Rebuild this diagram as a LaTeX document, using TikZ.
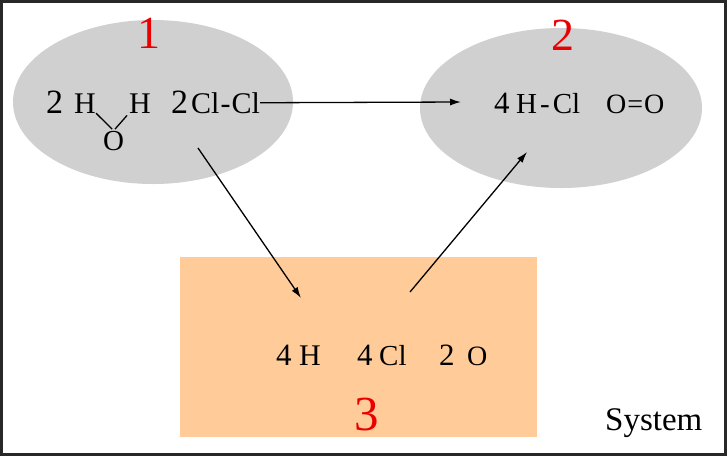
\documentclass[tikz,border=0pt]{standalone}
\usepackage{fontspec}
\setmainfont{Liberation Serif}
\usetikzlibrary{arrows.meta,shapes.geometric}
\definecolor{blobgray}{RGB}{208,208,208}
\definecolor{boxorange}{RGB}{255,204,153}
\definecolor{framegray}{RGB}{40,40,40}
\definecolor{labelred}{RGB}{235,0,0}
\newcommand{\fs}[1]{\fontsize{#1}{#1}\selectfont}
\begin{document}
\begin{tikzpicture}[x=1pt,y=-1pt,
  txt/.style={inner sep=0pt,anchor=base west},
  tag/.style={inner sep=0pt,anchor=base,text=labelred,font=\fs{46}},
  blob/.style={ellipse,fill=blobgray,inner sep=0pt},
  flow/.style={line width=1.3pt,-{Latex[length=11pt,width=7pt]}},
  bond/.style={line width=1.3pt}]
  \useasboundingbox (0,0) rectangle (727,456);
  \fill[white] (0,0) rectangle (727,456);
  \draw[framegray,line width=3pt] (1.5,1.5) rectangle (725.5,454.5);
  % the three states
  \node[blob,minimum width=280pt,minimum height=164pt] (state1) at (153,102) {};
  \node[blob,minimum width=282pt,minimum height=160pt] (state2) at (561,108) {};
  \node[fill=boxorange,inner sep=0pt,minimum width=357pt,minimum height=180pt] (state3) at (358.5,347) {};
  \node[tag] (tag1) at (148.5,48) {1};
  \node[tag] (tag2) at (562.5,50) {2};
  \node[tag,font=\fs{49}] (tag3) at (366.5,430) {3};
  % reactants
  \node[txt,font=\fs{34}] (n2w) at (46,113) {2};
  \node[txt,font=\fs{30}] (h1) at (74,113) {H};
  \node[txt,font=\fs{30}] (h2) at (129,113) {H};
  \node[txt,font=\fs{29}] (ox) at (103,150) {O};
  \node[txt,font=\fs{34}] (n2c) at (171,113) {2};
  \node[txt,font=\fs{30}] (clcl) at (191,113) {Cl\kern1pt-\kern1pt Cl};
  \draw[bond,shorten <=0pt,shorten >=2pt] (h1.south east) -- (ox.north);
  \draw[bond,shorten <=3pt,shorten >=2pt] (h2.south west) -- (ox.north);
  % products
  \node[txt,font=\fs{31}] (n4h) at (494,113) {4};
  \node[txt,font=\fs{29}] (hcl) at (516,113) {H\kern3pt-\kern3pt Cl};
  \node[txt,font=\fs{28}] (oo) at (606,113) {O\kern1pt=\kern1pt O};
  % atoms
  \node[txt,font=\fs{31}] (n4a) at (276,365) {4};
  \node[txt,font=\fs{30}] (hat) at (299,365) {H};
  \node[txt,font=\fs{31}] (n4b) at (357,365) {4};
  \node[txt,font=\fs{29}] (clat) at (379,365) {Cl};
  \node[txt,font=\fs{31}] (n2o) at (439,365) {2};
  \node[txt,font=\fs{28}] (oat) at (467,365) {O};
  \node[txt,font=\fs{33}] (sys) at (605,430) {System};
  % connectors
  \coordinate (in2) at (461,102);
  \coordinate (out1) at (198,148);
  \coordinate (in3) at (301,298);
  \coordinate (out3) at (410,292);
  \coordinate (in2b) at (527,152);
  \draw[flow] (clcl.east) -- (in2);
  \draw[flow] (out1) -- (in3);
  \draw[flow] (out3) -- (in2b);
\end{tikzpicture}
\end{document}
